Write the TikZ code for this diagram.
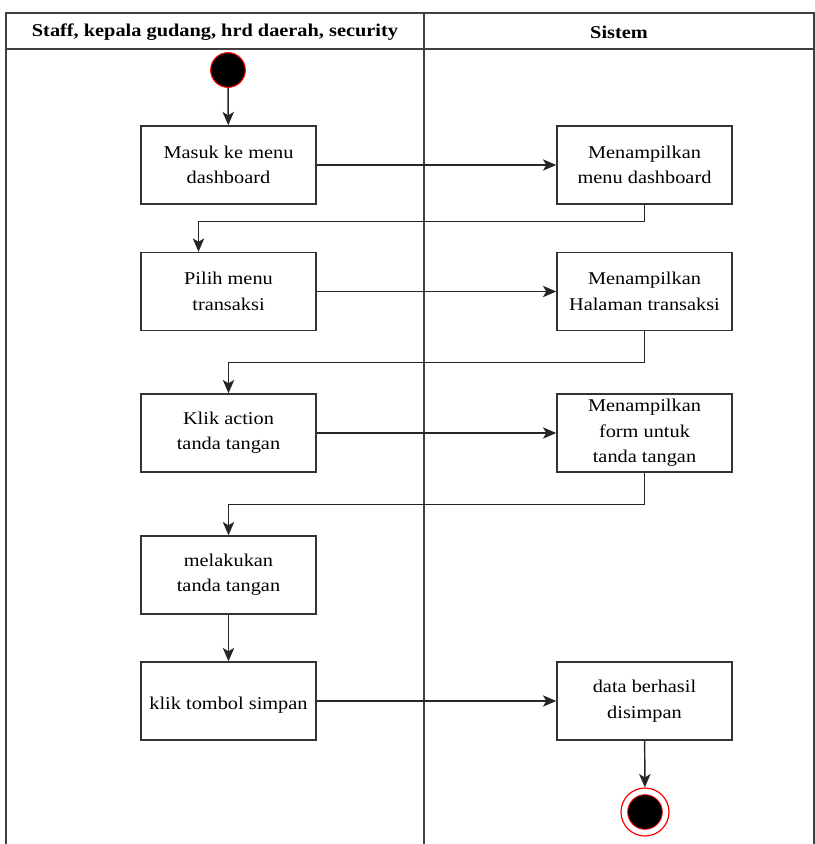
\documentclass[tikz,border=0pt]{standalone}
\usepackage{fontspec}
\setmainfont[FakeStretch=1.13]{Liberation Serif}
\usetikzlibrary{arrows.meta}

\begin{document}
\begin{tikzpicture}[x=0.75pt,y=-0.75pt,
  act/.style={draw=black!80, line width=1.1pt, fill=white,
    minimum width=131.25pt, minimum height=58.5pt, inner sep=1pt,
    align=center, font=\fontsize{13.5}{19}\selectfont,
    execute at begin node={\rule{0pt}{15.5pt}}},
  flow/.style={draw=black!85, line width=1.1pt,
    -{Stealth[length=10pt,width=8.5pt,inset=2.5pt]}},
  lane/.style={draw=black!75, line width=1pt},
  head/.style={font=\bfseries\fontsize{13.5}{16}\selectfont},
  startnode/.style={circle, fill=black, draw=red, line width=0.8pt,
    minimum size=26pt, inner sep=0pt},
  endring/.style={circle, fill=white, draw=red, line width=0.9pt,
    minimum size=36pt, inner sep=0pt},
  enddot/.style={circle, fill=black, draw=red, line width=0.6pt,
    minimum size=26pt, inner sep=0pt}]

\useasboundingbox (0,0) rectangle (815,844);

% swimlane frame
\draw[lane] (6,844) -- (6,13) -- (814,13) -- (814,844);
\draw[lane] (6,49) -- (814,49);
\draw[draw=black!75, line width=1.6pt] (424,13) -- (424,844);

\node[head] (h1) at (215,32) {Staff, kepala gudang, hrd daerah, security};
\node[head] (h2) at (619,32) {Sistem};

% start
\node[startnode] (start) at (228,70) {};

% left lane actions
\node[act] (a1) at (228.5,165)   {Masuk ke menu\\dashboard};
\node[act] (a2) at (228.5,291.5) {Pilih menu\\transaksi};
\node[act] (a3) at (228.5,433)   {Klik action\\tanda tangan};
\node[act] (a4) at (228.5,575)   {melakukan\\tanda tangan};
\node[act] (a5) at (228.5,701)   {klik tombol simpan};

% system lane actions
\node[act] (b1) at (644.5,165)   {Menampilkan\\menu dashboard};
\node[act] (b2) at (644.5,291.5) {Menampilkan\\Halaman transaksi};
\node[act, execute at begin node={}] (b3) at (644.5,433)
  {Menampilkan\\form untuk\\ tanda tangan};
\node[act] (b6) at (644.5,701)   {data berhasil\\disimpan};

% end
\node[endring] (end) at (645,812) {};
\node[enddot] (enddot) at (645,812) {};

% control flow
\draw[flow] (start) -- (a1);
\draw[flow] (a1) -- (b1);
\draw[flow] (b1.south) -- ++(0,17) -| ([xshift=-22.5pt]a2.north);
\draw[flow] (a2) -- (b2);
\draw[flow] (b2.south) -- ++(0,31) -| (a3.north);
\draw[flow] (a3) -- (b3);
\draw[flow] (b3.south) -- ++(0,32) -| (a4.north);
\draw[flow] (a4) -- (a5);
\draw[flow] (a5) -- (b6);
\draw[flow] (b6) -- (end);

\end{tikzpicture}
\end{document}
